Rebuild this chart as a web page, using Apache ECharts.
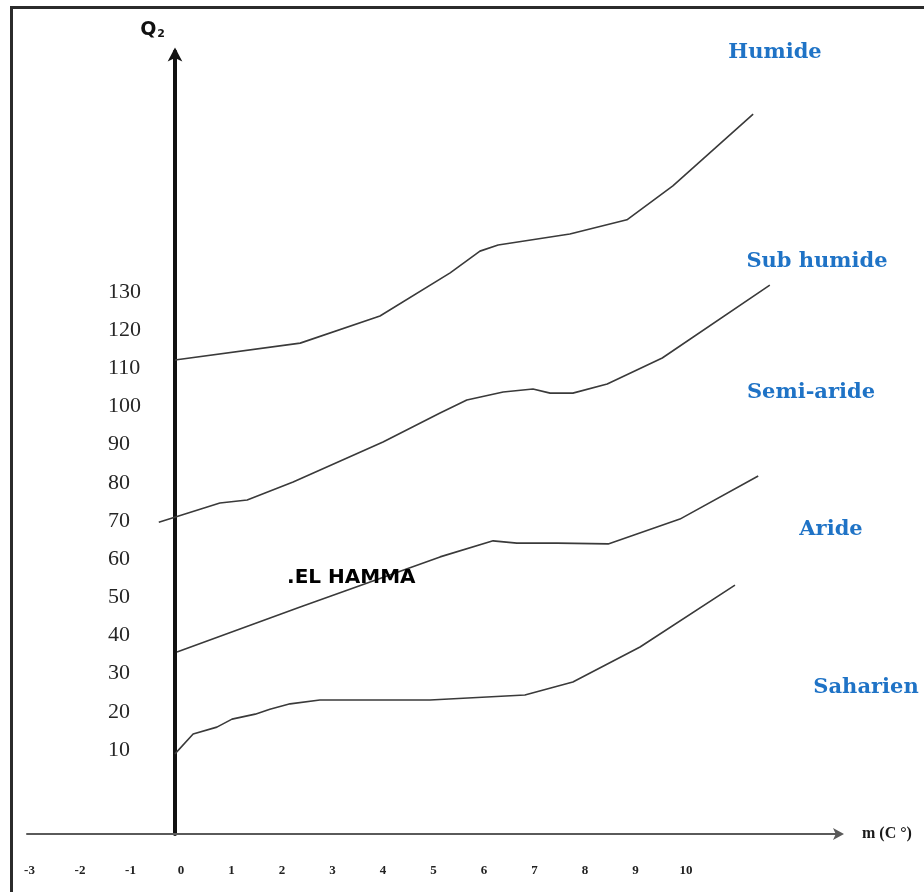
<!DOCTYPE html>
<html>
<head>
<meta charset="utf-8">
<script src="https://cdn.jsdelivr.net/npm/echarts@6/dist/echarts.min.js"></script>
<style>
  html, body { margin: 0; padding: 0; background: #ffffff; }
  #chart { width: 924px; height: 892px; }
</style>
</head>
<body>
<div id="chart"></div>
<script>
// Emberger climagram: pluviothermic quotient Q2 against m (mean minimum of the coldest month, °C)

// Tick labels
const xTickLabels = [-3, -2, -1, 0, 1, 2, 3, 4, 5, 6, 7, 8, 9, 10];
const yTickLabels = [10, 20, 30, 40, 50, 60, 70, 80, 90, 100, 110, 120, 130];

// Bioclimatic boundaries, points as [m, Q2]
const humideBoundary = [
  [-0.12, 112.2], [2.36, 116.6], [3.94, 123.7], [5.33, 135.0], [5.92, 140.7],
  [6.28, 142.3], [7.70, 145.2], [8.83, 148.9], [9.74, 157.8], [11.33, 176.6]
];
const subHumideBoundary = [
  [-0.44, 69.7], [0.77, 74.7], [1.31, 75.5], [2.22, 80.2], [4.00, 90.7],
  [5.13, 98.3], [5.66, 101.7], [6.38, 103.8], [6.97, 104.6], [7.31, 103.5],
  [7.76, 103.5], [8.44, 105.9], [9.53, 112.7], [11.66, 131.8]
];
const semiArideBoundary = [
  [-0.08, 35.7], [2.36, 47.5], [5.13, 60.6], [6.18, 64.8], [6.65, 64.2],
  [7.45, 64.2], [8.46, 64.0], [9.88, 70.5], [11.43, 81.8]
];
const arideBoundary = [
  [-0.12, 9.0], [0.24, 14.2], [0.71, 16.0], [1.01, 18.1], [1.47, 19.4],
  [1.76, 20.7], [2.16, 22.1], [2.75, 23.1], [4.93, 23.1], [6.81, 24.4],
  [7.76, 27.8], [9.09, 37.0], [10.97, 53.2]
];

// Zone names, top to bottom
const zoneNames = ['Humide', 'Sub humide', 'Semi-aride', 'Aride', 'Saharien'];

// Station
const stationName = '.EL HAMMA';
const stationPoint = [2.1, 55.0];

const curveStyle = { color: '#3a3a3a', width: 1.6 };
const boundaries = [humideBoundary, subHumideBoundary, semiArideBoundary, arideBoundary];

// Zone label anchors (pixel centres)
const zoneLabelAnchors = [[775, 53], [817, 262], [811, 393], [831, 530], [866, 688]];

const chart = echarts.init(document.getElementById('chart'), null, { renderer: 'canvas' });

const option = {
  backgroundColor: '#ffffff',
  animation: false,
  grid: {
    left: 27, right: 84, top: 51.5, bottom: 58,
    containLabel: false,
    outerBoundsMode: 'none'
  },
  xAxis: {
    type: 'value',
    min: -3.05,
    max: 13.05,
    axisLine: {
      onZero: false,
      lineStyle: { color: '#5a5a5a', width: 2 },
      symbol: ['none', 'arrow'],
      symbolSize: [9, 11],
      symbolOffset: [0, 4]
    },
    axisTick: { show: false },
    splitLine: { show: false },
    axisLabel: {
      customValues: xTickLabels,
      margin: 30,
      fontSize: 13,
      fontWeight: 'bold',
      fontFamily: 'Liberation Serif',
      color: '#222222'
    },
    name: 'm (C °)',
    nameLocation: 'end',
    nameGap: 22,
    nameTextStyle: {
      fontSize: 16,
      fontWeight: 'bold',
      fontFamily: 'Liberation Serif',
      color: '#1a1a1a'
    }
  },
  yAxis: {
    type: 'value',
    min: -12,
    max: 193,
    offset: -148,
    axisLine: {
      onZero: false,
      lineStyle: { color: '#111111', width: 4 },
      symbol: ['none', 'arrow'],
      symbolSize: [11, 14],
      symbolOffset: [0, 4]
    },
    axisTick: { show: false },
    splitLine: { show: false },
    axisLabel: {
      customValues: yTickLabels,
      align: 'left',
      margin: 67,
      fontSize: 22,
      fontFamily: 'Liberation Serif',
      color: '#262626'
    },
    name: '{q|Q}{s|2}',
    nameLocation: 'end',
    nameGap: 12,
    nameTextStyle: {
      align: 'right',
      padding: [0, 10, 0, 0],
      rich: {
        q: { fontSize: 19, fontWeight: 'bold', fontFamily: 'DejaVu Sans', color: '#111111' },
        s: { fontSize: 11, fontWeight: 'bold', fontFamily: 'DejaVu Sans', color: '#111111', padding: [8, 0, 0, 1] }
      }
    }
  },
  series: boundaries.map(function (pts, i) {
    return {
      type: 'line',
      name: zoneNames[i] + ' / ' + zoneNames[i + 1],
      data: pts,
      showSymbol: false,
      symbol: 'none',
      smooth: false,
      lineStyle: curveStyle,
      z: 1
    };
  }).concat([{
    type: 'scatter',
    name: stationName,
    data: [stationPoint],
    symbolSize: 0,
    itemStyle: { color: '#000000' },
    label: {
      show: true,
      position: 'right',
      distance: 0,
      formatter: stationName,
      fontFamily: 'DejaVu Sans',
      fontWeight: 'bold',
      fontSize: 20,
      color: '#000000',
      opacity: 1
    },
    z: 3
  }]),
  graphic: [
    {
      type: 'rect',
      silent: true,
      shape: { x: 11.5, y: 7.5, width: 1200, height: 1200 },
      style: { fill: 'none', stroke: '#2b2b2b', lineWidth: 3 },
      z: 10
    }
  ].concat(zoneNames.map(function (name, i) {
    return {
      type: 'text',
      silent: true,
      x: zoneLabelAnchors[i][0],
      y: zoneLabelAnchors[i][1],
      style: {
        text: name,
        align: 'center',
        verticalAlign: 'middle',
        fill: '#1f73c6',
        font: 'bold 21px "DejaVu Serif"'
      },
      z: 10
    };
  }))
};

chart.setOption(option);
</script>
</body>
</html>
